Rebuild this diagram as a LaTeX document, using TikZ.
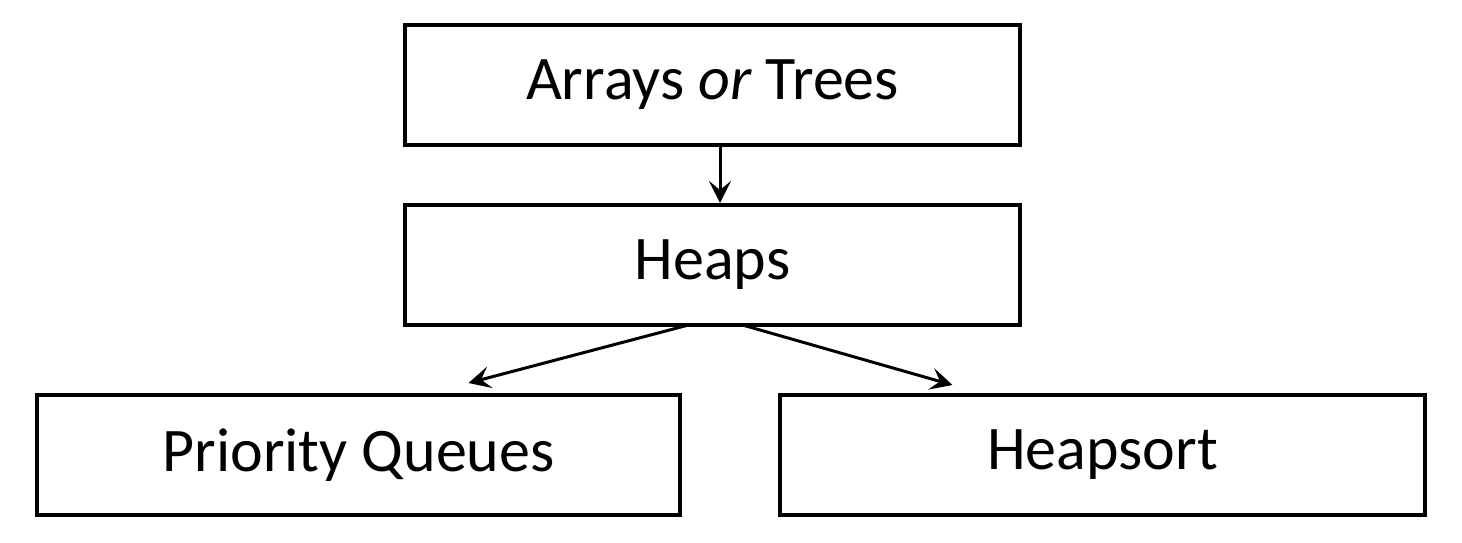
\documentclass[tikz,border=0pt]{standalone}
\usepackage{fontspec}
\setmainfont{Carlito}
\usetikzlibrary{arrows.meta,calc}
\begin{document}
\begin{tikzpicture}[x=1pt,y=-1pt,
  box/.style={draw=black,line width=4pt,rectangle,minimum width=615pt,minimum height=120pt,inner sep=0pt,font=\fontsize{62}{70}\selectfont},
  conn/.style={line width=3pt,-{Stealth[length=22pt,width=22pt,inset=9pt]}}]
\useasboundingbox (0,0) rectangle (1462,543);
\node[box] (top) at (712.5,85) {Arrays \textit{or} Trees};
\node[box] (heaps) at (712.5,265) {Heaps};
\node[box,minimum width=643pt] (pq) at (358.5,455) {Priority Queues};
\node[box,minimum width=645pt] (hs) at (1102.5,455) {Heapsort};
\coordinate (pqend) at ($(pq.north)+(110,-10)$);
\coordinate (hsend) at ($(hs.north)+(-150,-8)$);
\draw[conn] ($(top.south)+(7.5,0)$) -- ($(heaps.north)+(7.5,0)$);
\draw[conn] ($(heaps.south)+(-24,-2)$) -- (pqend);
\draw[conn] ($(heaps.south)+(30,-2)$) -- (hsend);
\end{tikzpicture}
\end{document}
